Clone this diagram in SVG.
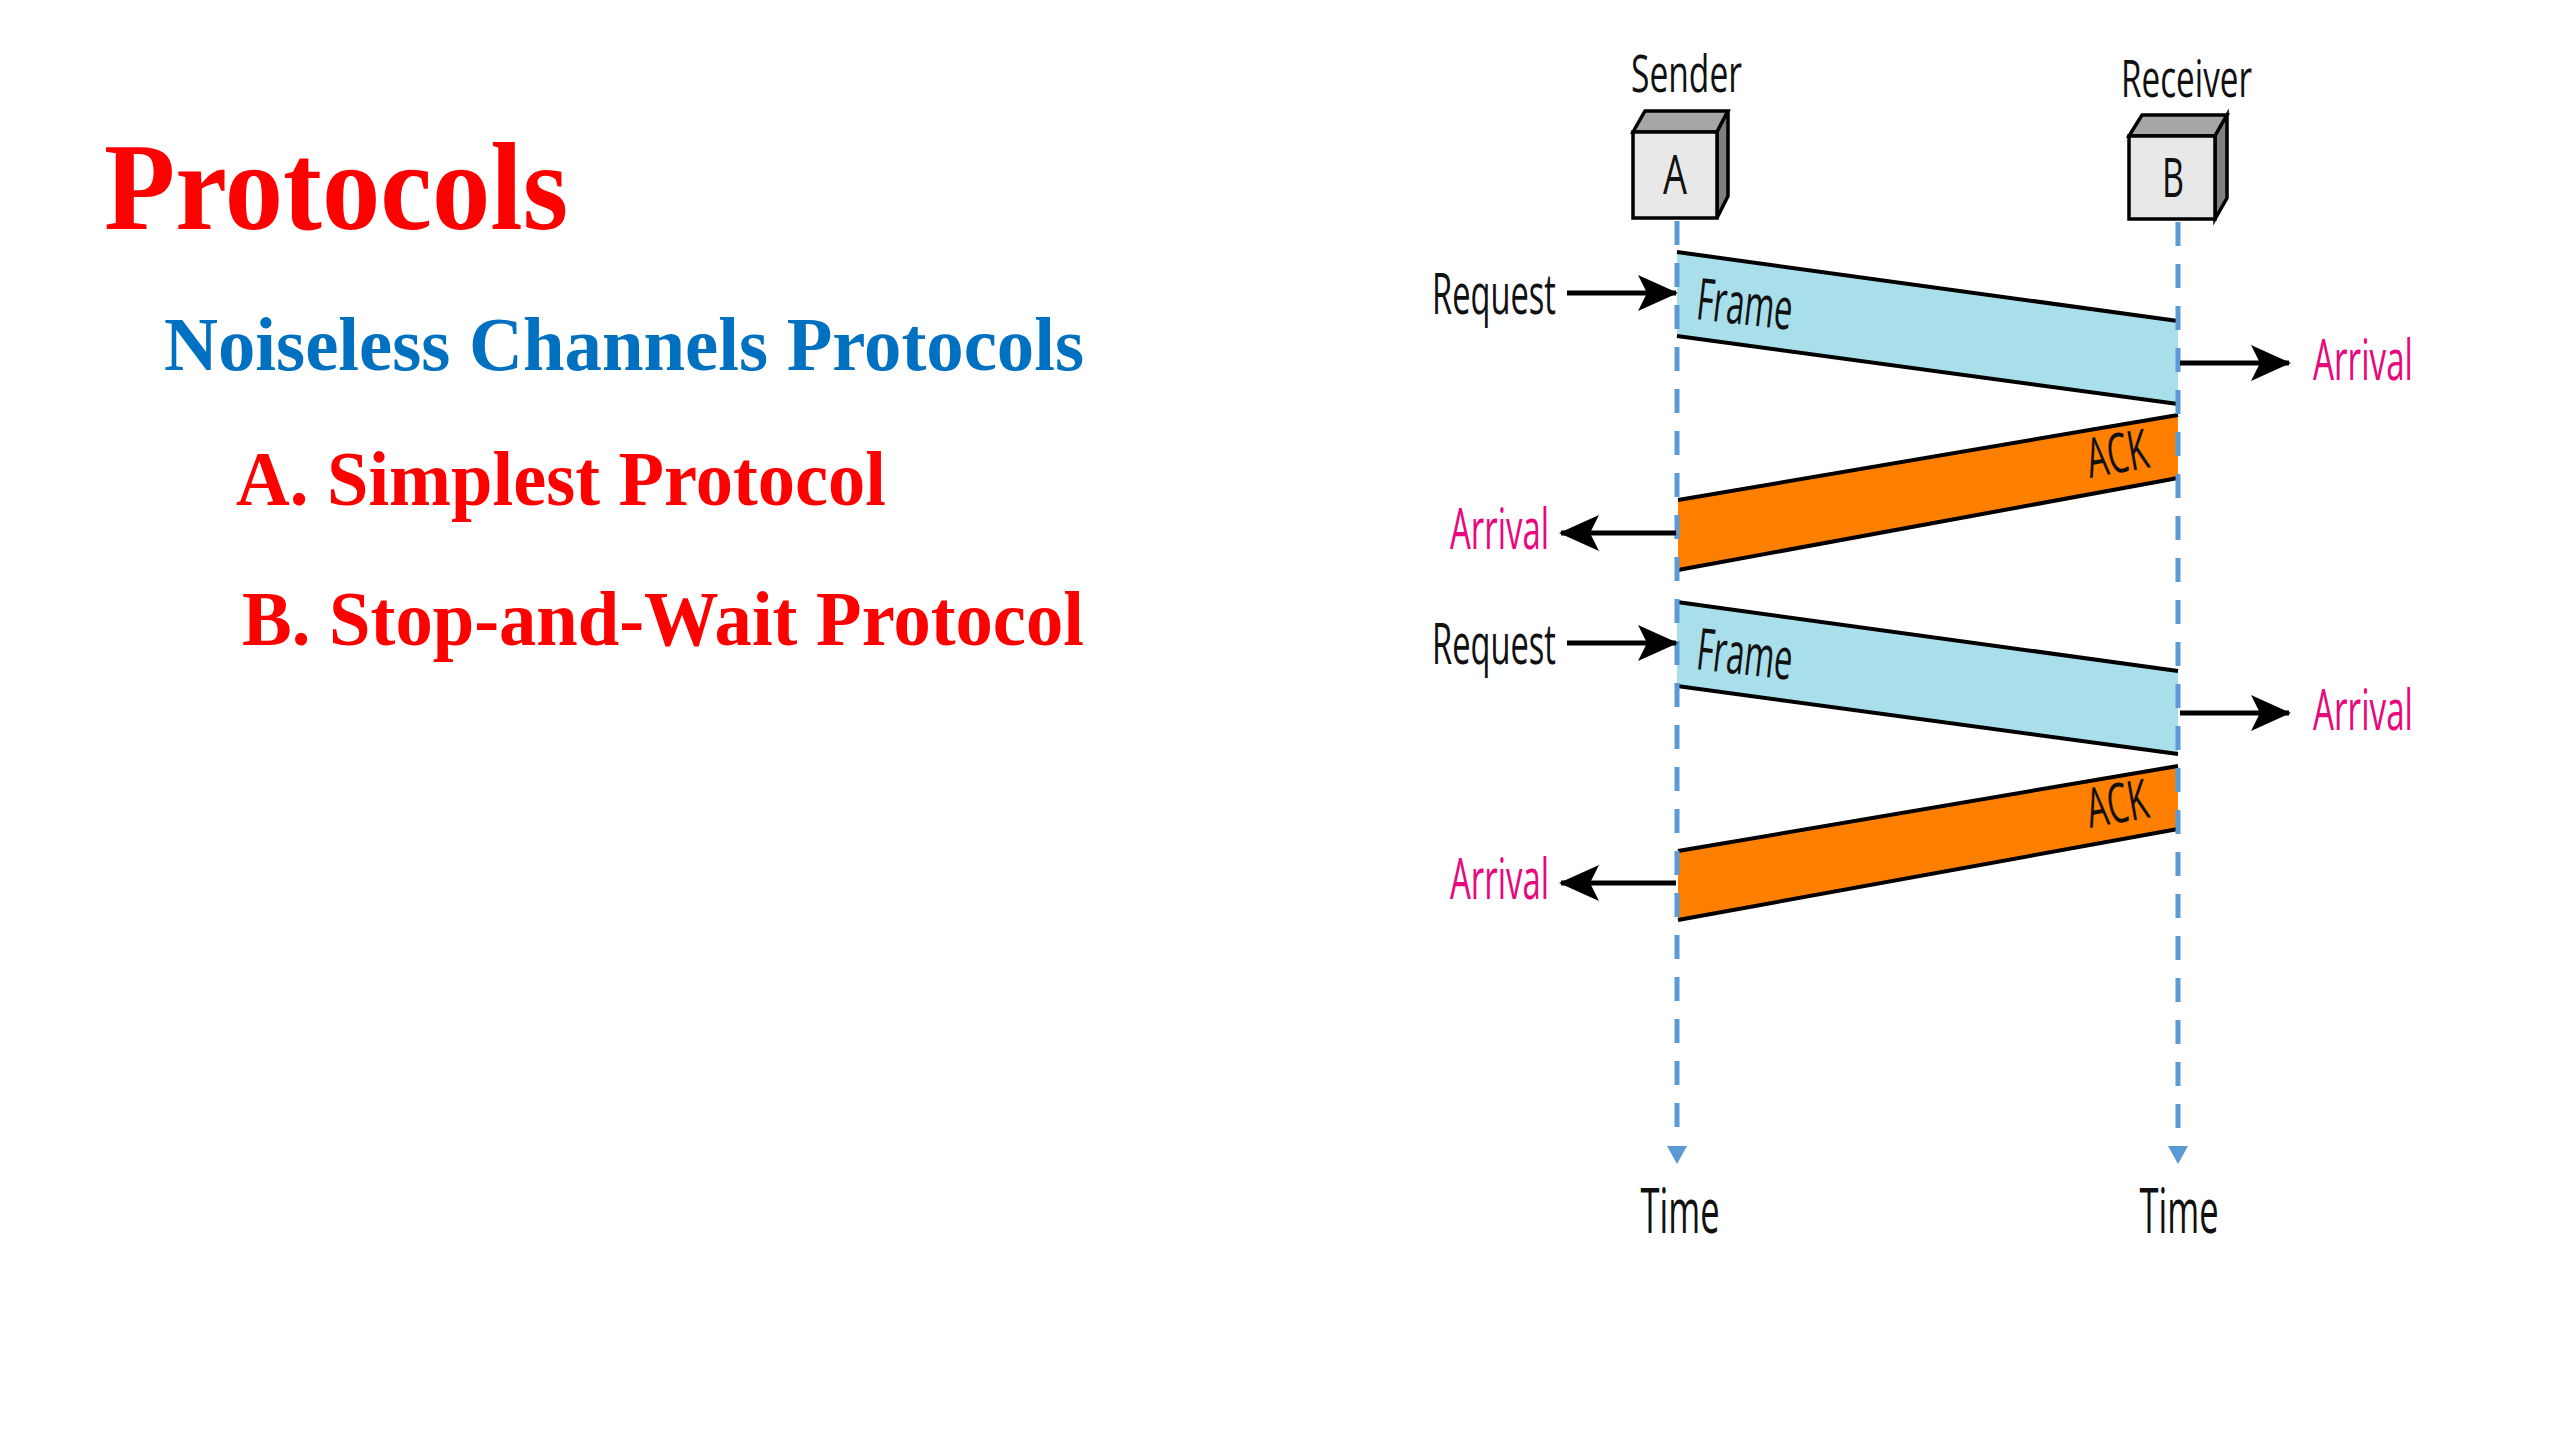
<svg xmlns="http://www.w3.org/2000/svg" width="2560" height="1440" viewBox="0 0 2560 1440">
<defs>
<style>
.title{font-family:"Liberation Serif","Times New Roman",serif;font-weight:bold}
.lbl{font-family:"Open Sans","Noto Sans",sans-serif;fill:#111}
.pink{font-family:"Open Sans","Noto Sans",sans-serif;fill:#e8087c}
.life{stroke:#5b9bd5;stroke-width:5;stroke-dasharray:24 18;fill:none}
.arr{stroke:#000;stroke-width:5;fill:none;marker-end:url(#ah)}
.edge{stroke:#000;stroke-width:4;fill:none}
.frame{fill:#a9dfeb}
.ack{fill:#ff8000}
.front{fill:#e8e8e8;stroke:#000;stroke-width:3.5}
.top{fill:#a6a6a6;stroke:#000;stroke-width:3.5}
.side{fill:#7f7f7f;stroke:#000;stroke-width:3.5}
</style>
<marker id="ah" markerUnits="userSpaceOnUse" markerWidth="40" markerHeight="40" viewBox="0 0 40 40" refX="38" refY="20" orient="auto">
<path d="M0,2 L40,20 L0,38 L9,20 z" fill="#000"/>
</marker>
</defs>
<rect width="2560" height="1440" fill="#fff"/>

<g id="titles">
<text class="title" x="104" y="229" font-size="124" fill="#ff0000" textLength="464" lengthAdjust="spacingAndGlyphs">Protocols</text>
<text class="title" x="164" y="370" font-size="76" fill="#0070c0" textLength="920" lengthAdjust="spacingAndGlyphs">Noiseless Channels Protocols</text>
<text class="title" x="236" y="505" font-size="78" fill="#ff0000" textLength="650" lengthAdjust="spacingAndGlyphs">A. Simplest Protocol</text>
<text class="title" x="242" y="645" font-size="78" fill="#ff0000" textLength="842" lengthAdjust="spacingAndGlyphs">B. Stop-and-Wait Protocol</text>
</g>

<g id="sender">
<polygon class="top" points="1633,132 1645,111 1728,111 1717,132"/>
<polygon class="side" points="1717,132 1728,111 1728,196 1717,218"/>
<rect class="front" x="1633" y="132" width="84" height="86"/>
<text class="lbl" x="1675" y="194" font-size="55" text-anchor="middle" textLength="24" lengthAdjust="spacingAndGlyphs">A</text>
<text class="lbl" x="1631" y="92" font-size="51" textLength="111" lengthAdjust="spacingAndGlyphs">Sender</text>
</g>

<g id="receiver">
<polygon class="top" points="2129,136 2142,115 2227,115 2215,136"/>
<polygon class="side" points="2215,136 2227,115 2227,198 2215,219"/>
<rect class="front" x="2129" y="136" width="86" height="83"/>
<text class="lbl" x="2173" y="197" font-size="55" text-anchor="middle" textLength="22" lengthAdjust="spacingAndGlyphs">B</text>
<text class="lbl" x="2121" y="97" font-size="51" textLength="131" lengthAdjust="spacingAndGlyphs">Receiver</text>
</g>

<g id="frame1">
<polygon class="frame" points="1677,252 2178,321 2178,404 1677,336"/>
<line class="edge" x1="1677" y1="252" x2="2178" y2="321"/>
<line class="edge" x1="1677" y1="336" x2="2178" y2="404"/>
<text class="lbl" x="1695" y="319" font-size="58" transform="rotate(6.5 1695 319)" textLength="96" lengthAdjust="spacingAndGlyphs">Frame</text>
</g>

<g id="ack1">
<polygon class="ack" points="1678,500 2178,415 2178,478 1678,570"/>
<line class="edge" x1="1678" y1="500" x2="2178" y2="415"/>
<line class="edge" x1="1678" y1="570" x2="2178" y2="478"/>
<text class="lbl" x="2090" y="478" font-size="55" transform="rotate(-10 2090 478)" textLength="62" lengthAdjust="spacingAndGlyphs">ACK</text>
</g>

<g id="frame2">
<polygon class="frame" points="1677,602 2178,671 2178,754 1677,686"/>
<line class="edge" x1="1677" y1="602" x2="2178" y2="671"/>
<line class="edge" x1="1677" y1="686" x2="2178" y2="754"/>
<text class="lbl" x="1695" y="669" font-size="58" transform="rotate(6.5 1695 669)" textLength="96" lengthAdjust="spacingAndGlyphs">Frame</text>
</g>

<g id="ack2">
<polygon class="ack" points="1678,851 2178,766 2178,829 1678,920"/>
<line class="edge" x1="1678" y1="851" x2="2178" y2="766"/>
<line class="edge" x1="1678" y1="920" x2="2178" y2="829"/>
<text class="lbl" x="2090" y="828" font-size="55" transform="rotate(-10 2090 828)" textLength="62" lengthAdjust="spacingAndGlyphs">ACK</text>
</g>

<g id="labels">
<text class="lbl" x="1432" y="314" font-size="57" textLength="124" lengthAdjust="spacingAndGlyphs">Request</text>
<text class="lbl" x="1432" y="664" font-size="57" textLength="124" lengthAdjust="spacingAndGlyphs">Request</text>
<text class="pink" x="2313" y="380" font-size="57" textLength="100" lengthAdjust="spacingAndGlyphs">Arrival</text>
<text class="pink" x="2313" y="730" font-size="57" textLength="100" lengthAdjust="spacingAndGlyphs">Arrival</text>
<text class="pink" x="1450" y="549" font-size="57" textLength="99" lengthAdjust="spacingAndGlyphs">Arrival</text>
<text class="pink" x="1450" y="899" font-size="57" textLength="99" lengthAdjust="spacingAndGlyphs">Arrival</text>
<text class="lbl" x="1680" y="1233" font-size="62" text-anchor="middle" textLength="79" lengthAdjust="spacingAndGlyphs">Time</text>
<text class="lbl" x="2179" y="1233" font-size="62" text-anchor="middle" textLength="79" lengthAdjust="spacingAndGlyphs">Time</text>
</g>

<g id="connectors">
<line class="life" x1="1677" y1="221" x2="1677" y2="1132"/>
<line class="life" x1="2178" y1="222" x2="2178" y2="1132"/>
<polygon points="1667,1146 1687,1146 1677,1164" fill="#5b9bd5"/>
<polygon points="2168,1146 2188,1146 2178,1164" fill="#5b9bd5"/>
<line class="arr" x1="1567" y1="293" x2="1676" y2="293"/>
<line class="arr" x1="2180" y1="363" x2="2289" y2="363"/>
<line class="arr" x1="1676" y1="533" x2="1561" y2="533"/>
<line class="arr" x1="1567" y1="643" x2="1676" y2="643"/>
<line class="arr" x1="2180" y1="713" x2="2289" y2="713"/>
<line class="arr" x1="1676" y1="883" x2="1561" y2="883"/>
</g>
</svg>
